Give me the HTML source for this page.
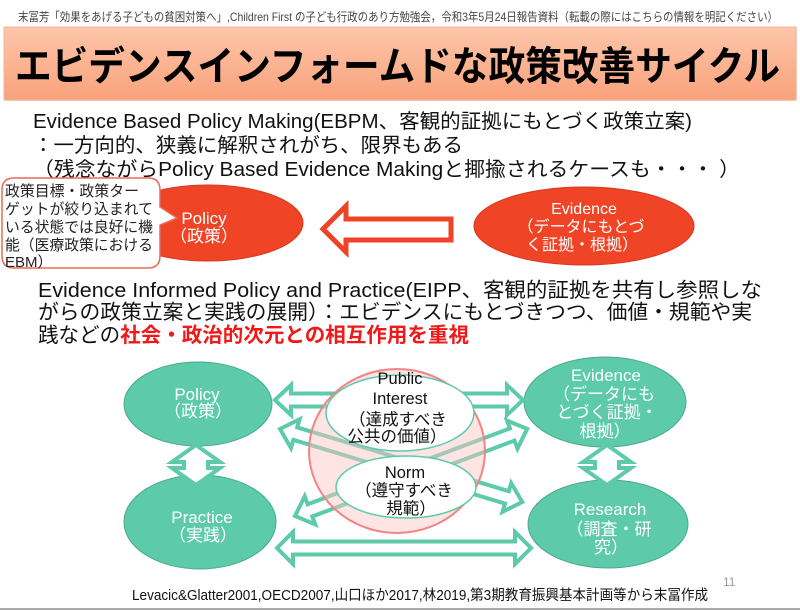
<!DOCTYPE html>
<html>
<head>
<meta charset="utf-8">
<style>
  html,body{margin:0;padding:0;background:#fff;}
  svg{display:block;}
  text{font-family:"Liberation Sans","Noto Sans CJK JP",sans-serif;}
</style>
</head>
<body>
<svg width="800" height="611" viewBox="0 0 800 611" xmlns="http://www.w3.org/2000/svg">
  <defs>
    <linearGradient id="tg" x1="0" y1="0" x2="0" y2="1">
      <stop offset="0" stop-color="#fdc6aa"/>
      <stop offset="1" stop-color="#f9a27b"/>
    </linearGradient>
  </defs>
  <rect width="800" height="611" fill="#fff"/>

  <!-- header -->
  <text x="18" y="21" font-size="12" fill="#444" textLength="760" lengthAdjust="spacingAndGlyphs">末冨芳「効果をあげる子どもの貧困対策へ」,Children First の子ども行政のあり方勉強会，令和3年5月24日報告資料（転載の際にはこちらの情報を明記ください）</text>

  <!-- title -->
  <rect x="5" y="28" width="792" height="73" fill="#e8e0dc"/>
  <rect x="4" y="27" width="792" height="73" fill="url(#tg)" stroke="#f6b496" stroke-width="1"/>
  <text x="15" y="80" font-size="40" font-weight="bold" fill="#000" textLength="765" lengthAdjust="spacingAndGlyphs">エビデンスインフォームドな政策改善サイクル</text>

  <!-- EBPM paragraph -->
  <text x="33" y="128" font-size="20" fill="#111" textLength="659" lengthAdjust="spacingAndGlyphs">Evidence Based Policy Making(EBPM、客観的証拠にもとづく政策立案)</text>
  <text x="33" y="152" font-size="20" fill="#111" textLength="430" lengthAdjust="spacingAndGlyphs">：一方向的、狭義に解釈されがち、限界もある</text>
  <text x="33" y="176" font-size="20" fill="#111" textLength="707" lengthAdjust="spacingAndGlyphs">（残念ながらPolicy Based Evidence Makingと揶揄されるケースも・・・ ）</text>

  <!-- red ellipses -->
  <ellipse cx="208" cy="223" rx="95" ry="38" fill="#ef4426" stroke="#d63a1f" stroke-width="1"/>
  <text x="204" y="224" font-size="17" fill="#fff" text-anchor="middle">Policy</text>
  <text x="204" y="242" font-size="17" fill="#fff" text-anchor="middle">（政策）</text>

  <ellipse cx="584" cy="226" rx="110" ry="39" fill="#ef4426" stroke="#d63a1f" stroke-width="1"/>
  <text x="584" y="214" font-size="16" fill="#fff" text-anchor="middle">Evidence</text>
  <text x="581" y="232" font-size="16" fill="#fff" text-anchor="middle">（データにもとづ</text>
  <text x="582" y="250" font-size="16" fill="#fff" text-anchor="middle">く証拠・根拠）</text>

  <!-- red outline arrow -->
  <path d="M323,229 L346,206 L346,219 L451,219 L451,240 L346,240 L346,252 Z" fill="#fff" stroke="#ee4324" stroke-width="5" stroke-linejoin="miter"/>

  <!-- callout -->
  <path d="M14,178 H148 Q160,178 160,190 V207 L177,218 L160,225 V256 Q160,268 148,268 H14 Q2,268 2,256 V190 Q2,178 14,178 Z" fill="#fff" stroke="#ea6a57" stroke-width="1.5"/>
  <text x="5" y="196" font-size="15" fill="#222" textLength="134" lengthAdjust="spacingAndGlyphs">政策目標・政策ター</text>
  <text x="5" y="214" font-size="15" fill="#222" textLength="148" lengthAdjust="spacingAndGlyphs">ゲットが絞り込まれて</text>
  <text x="5" y="232" font-size="15" fill="#222" textLength="148" lengthAdjust="spacingAndGlyphs">いる状態では良好に機</text>
  <text x="5" y="250" font-size="15" fill="#222" textLength="148" lengthAdjust="spacingAndGlyphs">能（医療政策における</text>
  <text x="5" y="267" font-size="15" fill="#222">EBM）</text>

  <!-- EIPP paragraph -->
  <text x="38" y="297" font-size="20.5" fill="#111" textLength="724" lengthAdjust="spacingAndGlyphs">Evidence Informed Policy and Practice(EIPP、客観的証拠を共有し参照しな</text>
  <text x="38" y="319" font-size="20.5" fill="#111" textLength="714" lengthAdjust="spacingAndGlyphs">がらの政策立案と実践の展開）：エビデンスにもとづきつつ、価値・規範や実</text>
  <text x="38" y="342" font-size="20.5" fill="#111" textLength="431" lengthAdjust="spacingAndGlyphs">践などの<tspan fill="#f01818" font-weight="bold">社会・政治的次元との相互作用を重視</tspan></text>

  <!-- green ellipses -->
  <ellipse cx="198" cy="404" rx="74" ry="42" fill="#5dcaa9" stroke="#4aa98b" stroke-width="1"/>
  <ellipse cx="200" cy="522" rx="76" ry="47" fill="#5dcaa9" stroke="#4aa98b" stroke-width="1"/>
  <ellipse cx="605" cy="402" rx="81" ry="45" fill="#5dcaa9" stroke="#4aa98b" stroke-width="1"/>
  <ellipse cx="608" cy="524" rx="80" ry="44" fill="#5dcaa9" stroke="#4aa98b" stroke-width="1"/>

  <!-- green outline arrows -->
  <g fill="#fff" stroke="#5dcaa9" stroke-width="4" stroke-linejoin="miter">
    <path transform="translate(275,400)" d="M0,0 L16,-15 L16,-6.5 L232,-6.5 L232,-15 L248,0 L232,15 L232,6.5 L16,6.5 L16,15 Z"/>
    <path transform="translate(277,548)" d="M0,0 L16,-16 L16,-6.5 L238,-6.5 L238,-16 L254,0 L238,16 L238,6.5 L16,6.5 L16,16 Z"/>
    <path transform="translate(280,429) rotate(16.78)" d="M0,0 L16,-15 L16,-6.5 L237,-6.5 L237,-15 L253,0 L237,15 L237,6.5 L16,6.5 L16,15 Z"/>
    <path transform="translate(295,516) rotate(-20.56)" d="M0,0 L16,-15 L16,-6.5 L232,-6.5 L232,-15 L248,0 L232,15 L232,6.5 L16,6.5 L16,15 Z"/>
    <path transform="translate(196,445) rotate(90)" d="M0,0 L17,-24 L17,-12 L23,-12 L23,-24 L40,0 L23,24 L23,12 L17,12 L17,24 Z"/>
    <path transform="translate(607,445) rotate(90)" d="M0,0 L17,-24 L17,-12 L23,-12 L23,-24 L40,0 L23,24 L23,12 L17,12 L17,24 Z"/>
  </g>

  <!-- pink circle -->
  <ellipse cx="397" cy="451" rx="88" ry="82" fill="rgb(255,195,195)" fill-opacity="0.45" stroke="#f38484" stroke-width="2"/>

  <!-- white ellipses -->
  <ellipse cx="400" cy="413" rx="74" ry="38" fill="#fff" stroke="#5dcaa9" stroke-width="1.5"/>
  <ellipse cx="406" cy="487" rx="70" ry="31" fill="#fff" stroke="#5dcaa9" stroke-width="1.5"/>

  <!-- green ellipse labels -->
  <g fill="#fff" font-size="17" text-anchor="middle">
    <text x="197" y="400">Policy</text>
    <text x="198" y="417">（政策）</text>
    <text x="202" y="523">Practice</text>
    <text x="203" y="541">（実践）</text>
    <text x="606" y="381">Evidence</text>
    <text x="604" y="400">（データにも</text>
    <text x="607" y="418">とづく証拠・</text>
    <text x="605" y="437">根拠）</text>
    <text x="610" y="515">Research</text>
    <text x="609" y="535">（調査・研</text>
    <text x="611" y="553">究）</text>
  </g>

  <!-- center labels -->
  <g fill="#111" font-size="16.5" text-anchor="middle">
    <text x="400" y="384">Public</text>
    <text x="400" y="404">Interest</text>
    <text x="398" y="425">（達成すべき</text>
    <text x="397" y="442">公共の価値）</text>
    <text x="405" y="478">Norm</text>
    <text x="404" y="496">（遵守すべき</text>
    <text x="411" y="514">規範）</text>
  </g>

  <!-- footer -->
  <text x="132" y="600" font-size="14.5" fill="#111" textLength="576" lengthAdjust="spacingAndGlyphs">Levacic&amp;Glatter2001,OECD2007,山口ほか2017,林2019,第3期教育振興基本計画等から末冨作成</text>
  <text x="723" y="586" font-size="12" fill="#999">11</text>
  <rect x="0" y="608" width="800" height="2" fill="#a8a8a8"/>
</svg>
</body>
</html>
